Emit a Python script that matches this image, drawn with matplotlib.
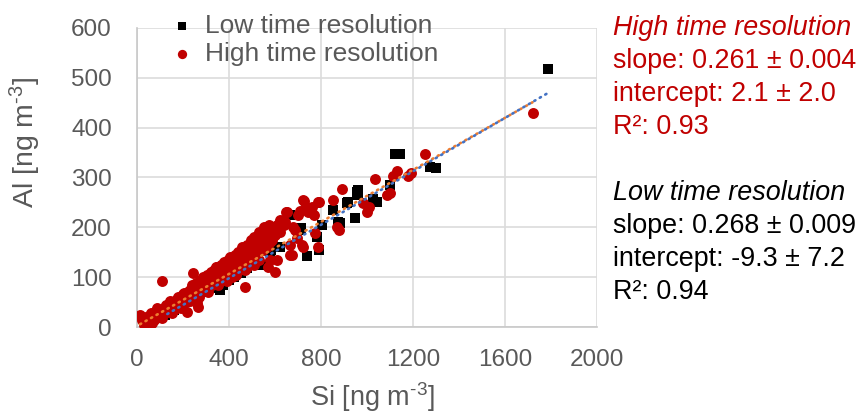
import numpy as np
import matplotlib.pyplot as plt

plt.rcParams['font.family'] = ['Liberation Sans', 'DejaVu Sans']
plt.rcParams['mathtext.fontset'] = 'custom'
plt.rcParams['mathtext.rm'] = 'Liberation Sans'
plt.rcParams['mathtext.default'] = 'regular'

# Low time resolution (black squares)
si_low = [120, 160, 200, 240, 270, 300, 330, 361, 374, 400, 420, 450, 480, 500,
          522, 543, 535, 578, 583, 620, 665, 709, 713, 739, 783, 791, 804, 852,
          874, 883, 913, 917, 948, 957, 961, 961, 1026, 1043, 1100, 1122, 1145,
          1274, 1300, 1785]
al_low = [25, 35, 45, 55, 65, 70, 78, 74, 84, 95, 100, 108, 118, 130,
          138, 124, 174, 150, 154, 160, 224, 194, 198, 142, 180, 154, 204, 234,
          210, 208, 248, 250, 218, 270, 274, 264, 256, 250, 284, 348, 348,
          322, 320, 518]

# High time resolution (red circles)
si_high = [13, 20, 35, 40, 50, 55, 65, 70, 80, 87, 95, 100, 110, 115, 120, 130,
           135, 140, 150, 155, 160, 170, 175, 180, 190, 195, 200, 205, 210, 217,
           220, 225, 230, 235, 240, 243, 250, 255, 261, 265, 270, 275, 280, 285,
           290, 295, 300, 305, 310, 315, 320, 325, 330, 335, 340, 345, 348, 350,
           355, 360, 365, 370, 375, 380, 385, 390, 395, 400, 404, 410, 415, 417,
           420, 425, 430, 435, 440, 448, 450, 455, 460, 461, 470, 470, 475, 478,
           480, 490, 495, 500, 505, 510, 513, 520, 530, 535, 540, 548, 548, 550,
           560, 570, 575, 578, 580, 591, 600, 600, 609, 609, 620, 643, 648, 652,
           665, 665, 674, 687, 696, 700, 710, 717, 722, 722, 726, 735, 743, 761,
           770, 774, 787, 787, 791, 852, 870, 880, 891, 983, 1000, 1010, 1035,
           1087, 1100, 1113, 1130, 1178, 1190, 1252, 1720,
           # extra points filling the dense band
           60, 75, 90, 105, 125, 145, 165, 185, 198, 215, 228, 245, 258, 268,
           282, 298, 312, 328, 342, 358, 372, 388, 402, 418, 432, 445, 458,
           468, 485, 498, 515, 525, 545, 565, 585, 530, 560, 620, 640, 680,
           30, 110, 150, 190, 230, 270, 310, 350, 390, 430, 470, 510]
al_high = [24, 14, 8, 20, 12, 25, 8, 22, 30, 38, 20, 34, 93, 28, 40, 30,
           45, 38, 50, 35, 48, 55, 40, 60, 50, 62, 48, 68, 55, 30,
           70, 58, 75, 62, 85, 108, 70, 88, 48, 40, 80, 95, 72, 100,
           85, 75, 92, 105, 80, 98, 110, 88, 100, 115, 95, 120, 120, 105,
           90, 112, 125, 100, 118, 130, 108, 120, 135, 110, 140, 125, 100, 134,
           132, 145, 118, 138, 150, 148, 128, 160, 140, 154, 154, 80, 135, 120,
           165, 150, 175, 160, 140, 180, 174, 165, 190, 174, 155, 154, 184, 200,
           180, 120, 205, 134, 170, 194, 110, 185, 204, 134, 215, 210, 230, 230,
           164, 144, 144, 194, 178, 224, 232, 164, 254, 160, 252, 240, 230, 240,
           225, 188, 250, 160, 250, 254, 200, 195, 276, 248, 230, 240, 296,
           264, 268, 304, 314, 304, 310, 348, 430,
           28, 15, 32, 22, 45, 52, 36, 58, 66, 50, 72, 60, 82, 66,
           90, 82, 95, 84, 108, 92, 110, 98, 120, 108, 126, 115, 132,
           145, 140, 150, 150, 168, 165, 160, 175, 135, 192, 190, 205, 200,
           4, 18, 28, 38, 52, 60, 70, 85, 92, 105, 115, 125]

# Trend lines (values as written on the chart)
slope_low, icpt_low = 0.268, -9.3
slope_high, icpt_high = 0.261, 2.1

fig = plt.figure(figsize=(8.61, 4.15), dpi=100)
ax = fig.add_axes([137/861, 1-327/415, 460/861, 299/415])

s1 = ax.scatter(si_low, al_low, marker='s', s=48, color='black', linewidths=0, zorder=3,
                label='Low time resolution')
s2 = ax.scatter(si_high, al_high, marker='o', s=62, color='#c00000', linewidths=0, zorder=4,
                label='High time resolution')

xh = np.array([min(si_high), max(si_high)])
xl = np.array([min(si_low), max(si_low)])
ax.plot(xh, slope_high*xh + icpt_high, color='#ed7d31', lw=1.9, ls=(0, (0.5, 1.9)),
        dash_capstyle='round', zorder=5)
ax.plot(xl, slope_low*xl + icpt_low, color='#4472c4', lw=1.9, ls=(1.2, (0.5, 1.9)),
        dash_capstyle='round', zorder=6)

ax.set_xlim(0, 2000)
ax.set_ylim(0, 600)
ax.set_xticks([0, 400, 800, 1200, 1600, 2000])
ax.set_yticks(range(0, 601, 100))
ax.grid(True, color='#dcdcdc', lw=1.2)
ax.set_axisbelow(True)
for sp in ['top', 'right']:
    ax.spines[sp].set_visible(False)
for sp in ['left', 'bottom']:
    ax.spines[sp].set_color('#c8c8c8')
    ax.spines[sp].set_linewidth(1.2)
ax.tick_params(length=0, labelsize=17.5, labelcolor='#595959')
ax.tick_params(axis='y', pad=18)
ax.tick_params(axis='x', pad=16)

fig.text(372/861, 1-397/415, r'Si [ng m$^{\text{-}3}$]', fontsize=19.5, color='#595959',
         ha='center', va='center')
fig.text(25/861, 1-142/415, r'Al [ng m$^{\text{-}3}$]', fontsize=20.5, color='#595959',
         ha='center', va='center', rotation=90)

ax.legend(handles=[s1, s2], loc='upper left', bbox_to_anchor=(150/861, 1.005),
          bbox_transform=fig.transFigure, frameon=False, fontsize=19,
          labelcolor='#595959', handletextpad=0.3, borderpad=0.1,
          labelspacing=0.15, handlelength=1.2, markerscale=0.85)

red = '#c00000'
tx = 613/861
high_lines = ['slope: 0.261 ± 0.004', 'intercept: 2.1 ± 2.0', 'R²: 0.93']
low_lines = ['slope: 0.268 ± 0.009', 'intercept: -9.3 ± 7.2', 'R²: 0.94']
fig.text(tx, 1-28/415, 'High time resolution', fontsize=19.4, color=red,
         style='italic', va='center')
for i, t in enumerate(high_lines):
    fig.text(tx, 1-(61+33*i)/415, t, fontsize=19.4, color=red, va='center')
fig.text(tx, 1-193/415, 'Low time resolution', fontsize=19.4, color='black',
         style='italic', va='center')
for i, t in enumerate(low_lines):
    fig.text(tx, 1-(226+33*i)/415, t, fontsize=19.4, color='black', va='center')

fig.savefig('out.png', dpi=100)
